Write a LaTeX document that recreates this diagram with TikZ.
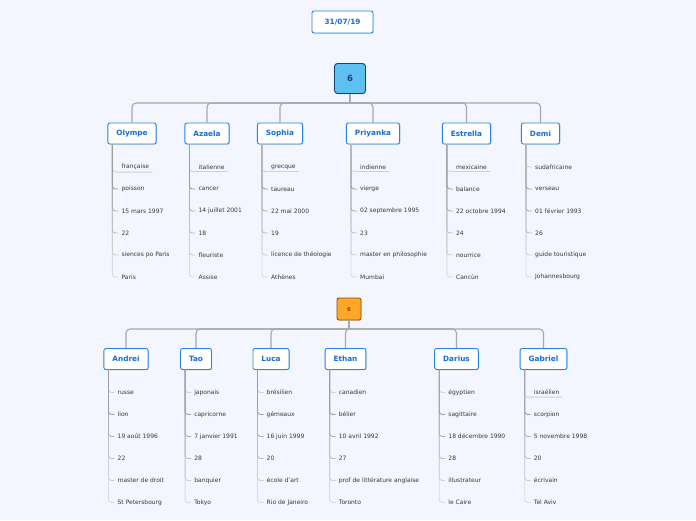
\documentclass[tikz,border=0pt]{standalone}
\usepackage{fontspec}
\setmainfont{DejaVu Sans}
\usetikzlibrary{shadows}

\definecolor{bgblue}{RGB}{243,246,254}
\definecolor{boxblue}{RGB}{38,132,232}
\definecolor{titleblue}{RGB}{22,108,214}
\definecolor{rootfill}{RGB}{92,192,240}
\definecolor{rootedge}{RGB}{22,64,132}
\definecolor{orangefill}{RGB}{255,168,40}
\definecolor{orangeedge}{RGB}{140,72,12}
\definecolor{leafgray}{RGB}{55,55,55}
\definecolor{trunkgray}{RGB}{168,168,168}

\newcommand{\boxfont}{\fontsize{7.3}{8}\selectfont\bfseries}
\newcommand{\leaffont}{\fontsize{6}{7}\selectfont}

\tikzset{
  namebox/.style={draw=boxblue, fill=white, line width=0.9pt, rounded corners=2pt,
    text=titleblue, font=\boxfont, minimum height=21pt, inner xsep=8.5pt,
    drop shadow={shadow xshift=0.7pt, shadow yshift=-0.9pt, opacity=0.25}},
  leaf/.style={anchor=west, font=\leaffont, text=leafgray, inner xsep=3pt, inner ysep=2pt},
  stem/.style={line width=0.9pt, rounded corners=3pt},
  trunk/.style={draw=trunkgray, line width=1.1pt, rounded corners=4pt},
}

% one column of six leaves hanging under a name box;
% #2 is the anchor of the first leaf that its line runs to
\newcommand{\leafcol}[3]{%
  \foreach \t [count=\i] in {#3} {
    \node[leaf] (#1-\i) at ([shift={(11,{33.5+22*(\i-1)})}]#1.west) {\t};
  }
  \draw[stem, draw=black!18] ([xshift=5pt]#1.south west) |- (#1-1.#2);
  \foreach \i/\c in {6/14,5/19,4/25,3/31,2/38} {
    \draw[stem, draw=black!\c] ([xshift=5pt]#1.south west) |- (#1-\i.west);
  }
}

\begin{document}
\begin{tikzpicture}[x=1pt, y=-1pt]
  % Background
  \fill[bgblue] (0,0) rectangle (696,520);
  \useasboundingbox (0,0) rectangle (696,520);

  % Date
  \node[namebox, minimum width=61pt, minimum height=22pt] (date) at (342.5,22) {31/07/19};

  % First group
  \node[draw=rootedge, fill=rootfill, line width=0.9pt, rounded corners=3pt,
    text=rootedge, font=\fontsize{8.5}{9}\selectfont\bfseries,
    minimum width=31pt, minimum height=30pt,
    drop shadow={shadow xshift=0.7pt, shadow yshift=-0.9pt, opacity=0.25}]
    (root1) at (350,78.5) {6};
  \coordinate (hub1) at (350,103);

  \node[namebox] (olympe)   at (132,133.5)   {Olympe};
  \node[namebox] (azaela)   at (207,133.5)   {Azaela};
  \node[namebox] (sophia)   at (280,133.5)   {Sophia};
  \node[namebox] (priyanka) at (373,133.5)   {Priyanka};
  \node[namebox] (estrella) at (466.5,133.5) {Estrella};
  \node[namebox] (demi)     at (540.5,133.5) {Demi};

  \draw[trunk] (root1.south) -- (hub1);
  \foreach \n in {olympe,azaela,sophia,priyanka,estrella,demi} {
    \draw[trunk] (hub1) -| (\n.north);
  }

  \leafcol{olympe}{south east}{française, poisson, 15 mars 1997, 22, siences po Paris, Paris}
  \leafcol{azaela}{south east}{italienne, cancer, 14 juillet 2001, 18, fleuriste, Assise}
  \leafcol{sophia}{south east}{grecque, taureau, 22 mai 2000, 19, licence de théologie, Athènes}
  \leafcol{priyanka}{south east}{indienne, vierge, 02 septembre 1995, 23, master en philosophie, Mumbai}
  \leafcol{estrella}{south east}{mexicaine, balance, 22 octobre 1994, 24, nourrice, Cancùn}
  \leafcol{demi}{west}{sudafricaine, verseau, 01 février 1993, 26, guide touristique, Johannesbourg}

  % Second group
  \node[draw=orangeedge, fill=orangefill, line width=0.8pt, rounded corners=2pt,
    text=orangeedge, font=\fontsize{5.5}{6}\selectfont\bfseries,
    minimum width=24pt, minimum height=22pt,
    drop shadow={shadow xshift=0.7pt, shadow yshift=-0.9pt, opacity=0.25}]
    (root2) at (349,309) {6};
  \coordinate (hub2) at (349,329);

  \node[namebox] (andrei)  at (126,359)   {Andrei};
  \node[namebox] (tao)     at (196,359)   {Tao};
  \node[namebox] (luca)    at (271,359)   {Luca};
  \node[namebox] (ethan)   at (345.5,359) {Ethan};
  \node[namebox] (darius)  at (456.5,359) {Darius};
  \node[namebox] (gabriel) at (543.5,359) {Gabriel};

  \draw[trunk] (root2.south) -- (hub2);
  \foreach \n in {andrei,tao,luca,ethan,darius,gabriel} {
    \draw[trunk] (hub2) -| (\n.north);
  }

  \leafcol{andrei}{west}{russe, lion, 19 août 1996, 22, master de droit, St Petersbourg}
  \leafcol{tao}{west}{japonais, capricorne, 7 janvier 1991, 28, banquier, Tokyo}
  \leafcol{luca}{west}{brésilien, gémeaux, 16 juin 1999, 20, école d'art, Rio de Janeiro}
  \leafcol{ethan}{west}{canadien, bélier, 10 avril 1992, 27, prof de littérature anglaise, Toronto}
  \leafcol{darius}{west}{égyptien, sagittaire, 18 décembre 1990, 28, illustrateur, le Caire}
  \leafcol{gabriel}{south east}{israélien, scorpion, 5 novembre 1998, 20, écrivain, Tel Aviv}
\end{tikzpicture}
\end{document}
